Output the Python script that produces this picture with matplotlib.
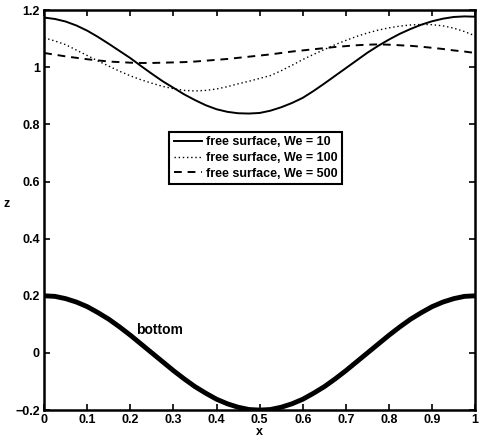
import matplotlib
matplotlib.use('Agg')
import matplotlib.pyplot as plt

plt.rcParams['font.family'] = ['Liberation Sans', 'DejaVu Sans']
plt.rcParams['font.weight'] = 'bold'

x = [0, 0.025, 0.05, 0.075, 0.1, 0.125, 0.15, 0.175, 0.2, 0.225, 0.25,
     0.275, 0.3, 0.325, 0.35, 0.375, 0.4, 0.425, 0.45, 0.475, 0.5,
     0.525, 0.55, 0.575, 0.6, 0.625, 0.65, 0.675, 0.7, 0.725, 0.75,
     0.775, 0.8, 0.825, 0.85, 0.875, 0.9, 0.925, 0.95, 0.975, 1.0]

we10 = [1.174, 1.169, 1.160, 1.146, 1.128, 1.106, 1.082, 1.057, 1.032, 1.004, 0.977,
        0.951, 0.928, 0.905, 0.885, 0.867, 0.853, 0.844, 0.839, 0.838, 0.840,
        0.848, 0.860, 0.875, 0.893, 0.917, 0.943, 0.970, 0.997, 1.024, 1.051,
        1.075, 1.097, 1.117, 1.134, 1.149, 1.161, 1.170, 1.176, 1.178, 1.177]
we100 = [1.103, 1.092, 1.079, 1.060, 1.041, 1.022, 1.004, 0.986, 0.970, 0.956, 0.944,
         0.933, 0.925, 0.919, 0.917, 0.919, 0.924, 0.932, 0.942, 0.951, 0.961,
         0.971, 0.988, 1.007, 1.027, 1.045, 1.062, 1.079, 1.094, 1.108, 1.120,
         1.130, 1.138, 1.144, 1.148, 1.150, 1.149, 1.145, 1.137, 1.125, 1.110]
we500 = [1.050, 1.044, 1.038, 1.033, 1.028, 1.024, 1.020, 1.018, 1.016, 1.015, 1.015,
         1.016, 1.017, 1.018, 1.020, 1.023, 1.026, 1.029, 1.033, 1.037, 1.041,
         1.045, 1.050, 1.055, 1.059, 1.063, 1.067, 1.071, 1.074, 1.077, 1.079,
         1.080, 1.079, 1.077, 1.075, 1.072, 1.068, 1.064, 1.059, 1.055, 1.050]
bottom = [0.200, 0.198, 0.190, 0.178, 0.162, 0.141, 0.118, 0.091, 0.062, 0.031, 0.000,
          -0.031, -0.062, -0.091, -0.118, -0.141, -0.162, -0.178, -0.190, -0.198, -0.200,
          -0.198, -0.190, -0.178, -0.162, -0.141, -0.118, -0.091, -0.062, -0.031, 0.000,
          0.031, 0.062, 0.091, 0.118, 0.141, 0.162, 0.178, 0.190, 0.198, 0.200]

labels = ['free surface, We = 10', 'free surface, We = 100', 'free surface, We = 500']
xticks = [0, 0.1, 0.2, 0.3, 0.4, 0.5, 0.6, 0.7, 0.8, 0.9, 1]
xticklabels = ['0', '0.1', '0.2', '0.3', '0.4', '0.5', '0.6', '0.7', '0.8', '0.9', '1']
yticks = [-0.2, 0, 0.2, 0.4, 0.6, 0.8, 1, 1.2]
yticklabels = ['\u22120.2', '0', '0.2', '0.4', '0.6', '0.8', '1', '1.2']

fig = plt.figure(figsize=(4.8, 4.4), dpi=100)
ax = fig.add_axes([0.092, 0.068, 0.898, 0.909])

ax.plot(x, we10, color='black', lw=1.4, ls='-', label=labels[0])
ax.plot(x, we100, color='black', lw=1.0, ls=(0, (1, 2)), label=labels[1])
ax.plot(x, we500, color='black', lw=1.4, ls=(0, (4, 3)), label=labels[2])
ax.plot(x, bottom, color='black', lw=3.5, solid_capstyle='butt')

ax.text(0.213, 0.08, 'bottom', fontsize=10, fontweight='bold', va='center', ha='left')

ax.set_xlim(0, 1)
ax.set_ylim(-0.2, 1.2)
ax.set_xticks(xticks)
ax.set_xticklabels(xticklabels)
ax.set_yticks(yticks)
ax.set_yticklabels(yticklabels)
ax.tick_params(direction='in', length=4, width=1.2, labelsize=9, top=True, right=True, pad=3)
for s in ax.spines.values():
    s.set_linewidth(1.8)

ax.set_xlabel('x', fontsize=9, fontweight='bold', labelpad=0)
ax.set_ylabel('z', fontsize=9, fontweight='bold', rotation=0, labelpad=6)

leg = ax.legend(loc='center', bbox_to_anchor=(0.491, 0.63), fontsize=9, fancybox=False,
                edgecolor='black', framealpha=1, handlelength=2.3, borderpad=0.35,
                labelspacing=0.3, handletextpad=0.3)
leg.get_frame().set_linewidth(1.5)

fig.savefig('out.png', dpi=100)
